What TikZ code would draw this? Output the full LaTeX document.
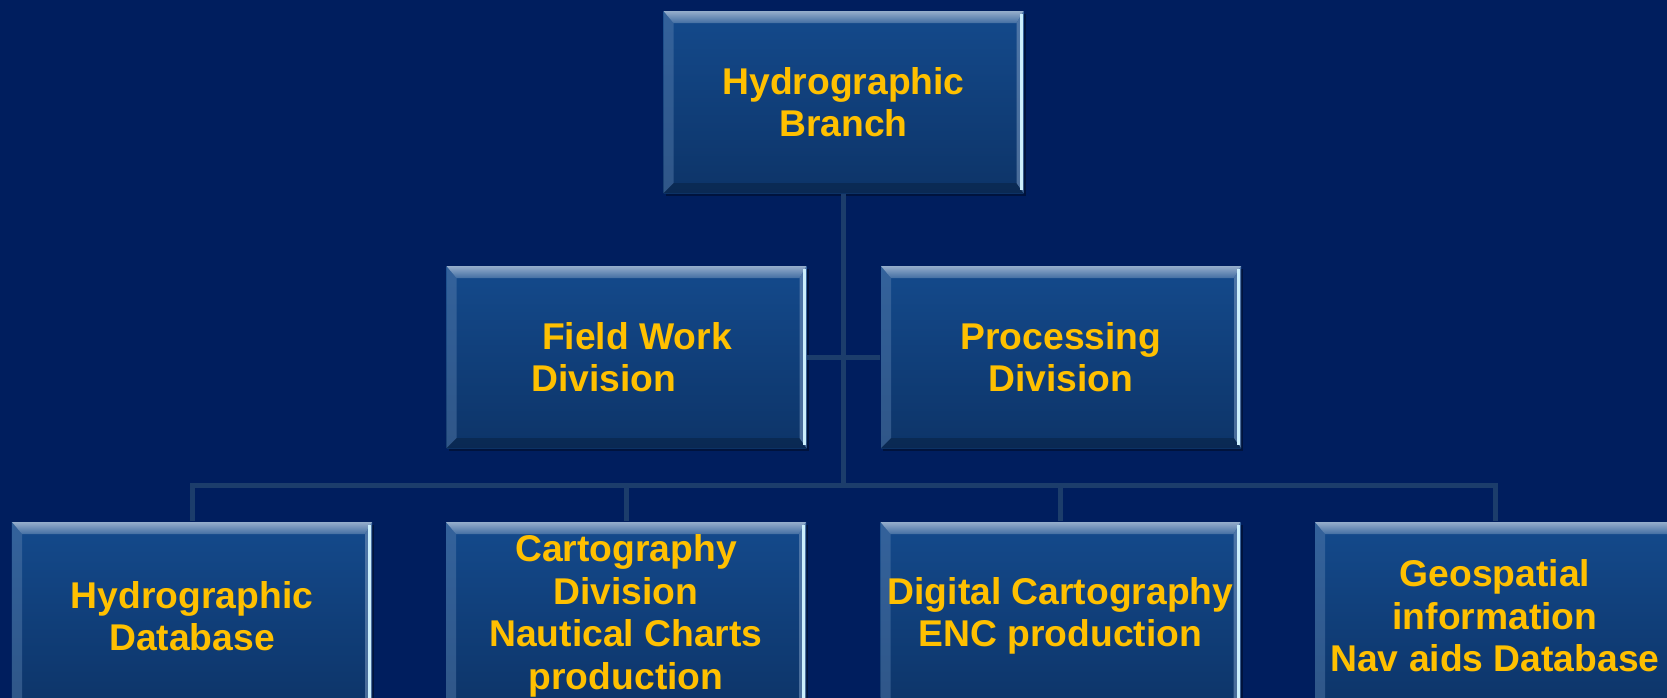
\documentclass[tikz,border=0pt]{standalone}
\usepackage{fontspec}
\setmainfont{Liberation Sans}
\usetikzlibrary{calc,shadows}
\definecolor{bgblue}{HTML}{001E5E}
\definecolor{boxtop}{HTML}{144A8C}
\definecolor{boxbot}{HTML}{0D3468}
\definecolor{linkblue}{HTML}{1C3D6B}
\definecolor{gold}{HTML}{FFC000}
\tikzset{
  orgbox/.style={rectangle, minimum width=3.6cm, minimum height=1.82cm, inner sep=0pt,
    top color=boxtop, bottom color=boxbot, text=gold, align=center,
    font=\bfseries\fontsize{10.6}{12.1}\selectfont,
    drop shadow={shadow xshift=0.02cm, shadow yshift=-0.03cm, opacity=0.35, fill=black},
    path picture={
      \path (path picture bounding box.north west) coordinate (nw)
            (path picture bounding box.north east) coordinate (ne)
            (path picture bounding box.south west) coordinate (sw)
            (path picture bounding box.south east) coordinate (se);
      \fill[fill=boxtop!70!white, opacity=0.45] (nw) -- ($(nw)+(0.1,-0.12)$) -- ($(sw)+(0.1,0.1)$) -- (sw) -- cycle;
      \fill[fill=black, opacity=0.2] (sw) -- ($(sw)+(0.1,0.1)$) -- ($(se)+(-0.07,0.1)$) -- (se) -- cycle;
      \fill[fill=boxtop!60!white, opacity=0.6] (ne) -- ($(ne)+(-0.07,-0.12)$) -- ($(se)+(-0.07,0.1)$) -- (se) -- cycle;
      \shade[top color=boxtop!45!white, bottom color=boxtop!80!white] (nw) -- (ne) -- ($(ne)+(-0.07,-0.12)$) -- ($(nw)+(0.1,-0.12)$) -- cycle;
      \draw[white!80!cyan, line width=0.03cm] ($(ne)+(-0.025,-0.03)$) -- ($(se)+(-0.025,0.03)$);
    }},
  link/.style={draw=linkblue, line width=0.05cm}
}
\begin{document}
\begin{tikzpicture}
  \fill[bgblue] (0,0) rectangle (16.67,-6.98);
  \useasboundingbox (0,0) rectangle (16.67,-6.98);

  \coordinate (bus) at (8.435,-4.85);

  \node[orgbox] (branch) at (8.435,-1.02) {Hydrographic\\ Branch};
  \node[orgbox, align=left] (field) at (6.265,-3.57) {\hspace*{0.21cm}Field Work\\\hspace*{0.1cm}Division};
  \node[orgbox] (proc) at (10.61,-3.57) {Processing\\Division};

  \foreach \n/\x/\txt in {db/1.92/{Hydrographic\\Database},
                          carto/6.26/{Cartography\\Division\\Nautical Charts\\production},
                          digital/10.605/{Digital Cartography\\ENC production},
                          geo/14.95/{Geospatial\\information\\Nav aids Database}}{
    \node[orgbox, minimum height=1.88cm] (\n) at (\x,-6.16) {\txt};
  }

  % connectors
  \draw[link] (branch.south) -- (bus);
  \draw[link] (field.east) -- (proc.west);
  \foreach \n in {db,carto,digital,geo}{
    \draw[link] (bus) -| (\n.north);
  }
\end{tikzpicture}
\end{document}
